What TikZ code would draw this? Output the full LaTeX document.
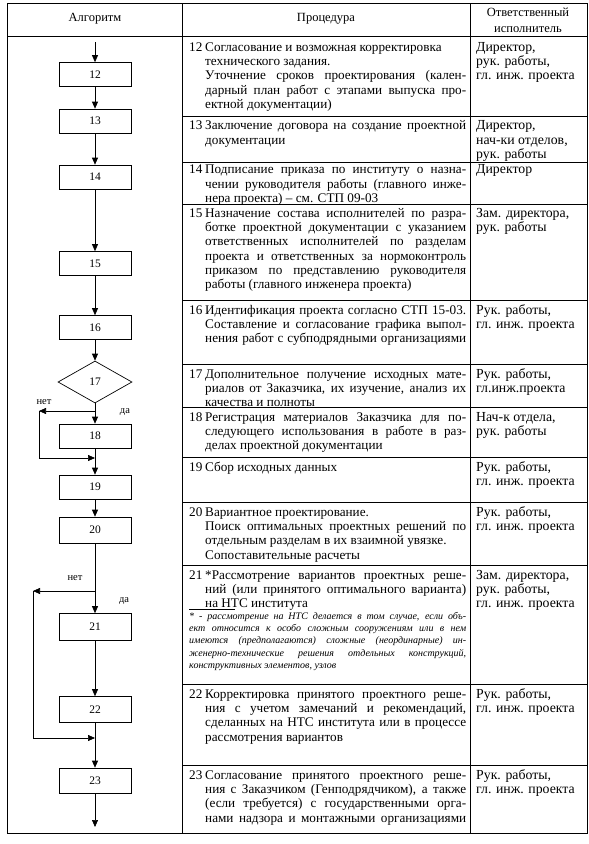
\documentclass[tikz,border=0pt]{standalone}
\usepackage{fontspec}
\setmainfont{Liberation Serif}
\usetikzlibrary{arrows.meta,shapes.geometric}
\newlength\numw \setlength\numw{16pt}
\newcommand\rs{\rule[-4.3pt]{0pt}{14.3pt}}
\newcommand\jline[2]{\hbox to \hsize{\rs\hbox to \numw{#1\hss}#2}}
\newcommand\lline[2]{\hbox to \hsize{\rs\hbox to \numw{#1\hss}#2\hfil}}
\newcommand\fs{\rule[-3.3pt]{0pt}{12.3pt}}
\newcommand\fj[1]{\hbox to \hsize{\fs#1}}
\newcommand\fl[1]{\hbox to \hsize{\fs#1\hfil}}
\newcommand\rl[1]{\hbox{\rs#1}}
\tikzset{
  box/.style={draw, line width=0.7pt, minimum width=72pt, minimum height=24pt, inner sep=0pt, font=\fontsize{11.5}{13}\selectfont},
  dia/.style={draw, diamond, aspect=1.76, line width=0.7pt, minimum width=74pt, minimum height=42pt, inner sep=0pt, font=\fontsize{11.5}{13}\selectfont},
  arr/.style={line width=0.7pt, -{Triangle[length=7pt,width=6pt]}},
  tab/.style={line width=0.9pt},
  rowl/.style={line width=0.7pt},
  txt/.style={anchor=north west, inner sep=0pt, font=\fontsize{13.2}{14.3}\selectfont},
  resp/.style={anchor=north west, inner sep=0pt, font=\fontsize{13.8}{14.3}\selectfont},
  fnote/.style={anchor=north west, inner sep=0pt, font=\itshape\fontsize{10}{12.3}\selectfont},
  lab/.style={inner sep=0pt, font=\fontsize{10.5}{12}\selectfont},
  hdr/.style={inner sep=0pt, align=center, font=\fontsize{12.5}{16}\selectfont}
}
\begin{document}
\begin{tikzpicture}[x=1pt,y=-1pt]
\fill[white] (0,0) rectangle (589,844);
\useasboundingbox (0,0) rectangle (589,844);
% table
\draw[tab] (7,3) rectangle (587,833);
\draw[tab] (7,36) -- (587,36);
\draw[tab] (182,3) -- (182,833);
\draw[tab] (470,3) -- (470,833);
\foreach \y in {116,162,204,300,364,407,457,502,565,684,765}
  \draw[rowl] (182,\y) -- (587,\y);
% header
\node[hdr] (h1) at (95,19) {Алгоритм};
\node[hdr] (h2) at (326,19) {Процедура};
\node[hdr] (h3) at (528,20) {Ответственный\\исполнитель};
% procedure texts
\node[txt] (t12) at (189,41) {\vbox{\hsize=277pt
 \lline{12}{Согласование и возможная корректировка}
 \lline{}{технического задания.}
 \jline{}{Уточнение сроков  проектирования (кален-}
 \jline{}{дарный план работ с этапами выпуска про-}
 \lline{}{ектной документации)}}};
\node[txt] (t13) at (189,119.5) {\vbox{\hsize=277pt
 \jline{13}{Заключение договора на создание проектной}
 \lline{}{документации}}};
\node[txt] (t14) at (189,163.5) {\vbox{\hsize=277pt
 \jline{14}{Подписание приказа по институту о назна-}
 \jline{}{чении руководителя работы (главного инже-}
 \lline{}{нера проекта) -- см. СТП 09-03}}};
\node[txt] (t15) at (189,207) {\vbox{\hsize=277pt
 \jline{15}{Назначение состава исполнителей по разра-}
 \jline{}{ботке проектной документации с указанием}
 \jline{}{ответственных исполнителей по разделам}
 \jline{}{проекта и ответственных за нормоконтроль}
 \jline{}{приказом по представлению руководителя}
 \lline{}{работы (главного инженера проекта)}}};
\node[txt] (t16) at (189,304) {\vbox{\hsize=277pt
 \jline{16}{Идентификация проекта согласно СТП 15-03.}
 \jline{}{Составление и согласование графика выпол-}
 \jline{}{нения работ с субподрядными организациями}}};
\node[txt] (t17) at (189,368) {\vbox{\hsize=277pt
 \jline{17}{Дополнительное получение исходных мате-}
 \jline{}{риалов от Заказчика, их изучение, анализ их}
 \lline{}{качества и полноты}}};
\node[txt] (t18) at (189,411) {\vbox{\hsize=277pt
 \jline{18}{Регистрация материалов Заказчика для по-}
 \jline{}{следующего использования в работе в раз-}
 \lline{}{делах проектной документации}}};
\node[txt] (t19) at (189,461) {\vbox{\hsize=277pt
 \lline{19}{Сбор исходных данных}}};
\node[txt] (t20) at (189,506) {\vbox{\hsize=277pt
 \lline{20}{Вариантное проектирование.}
 \jline{}{Поиск оптимальных проектных решений по}
 \lline{}{отдельным разделам в их взаимной увязке.}
 \lline{}{Сопоставительные расчеты}}};
\node[txt] (t21) at (189,569) {\vbox{\hsize=277pt
 \jline{21}{*Рассмотрение вариантов проектных реше-}
 \jline{}{ний (или принятого оптимального варианта)}
 \lline{}{на НТС института}}};
\draw[rowl] (189,609) -- (235,609);
\node[fnote] (f21) at (189,610) {\vbox{\hsize=277pt
 \fj{* - рассмотрение на НТС делается в том случае, если объ-}
 \fj{ект относится к особо сложным сооружениям или в нем}
 \fj{имеются (предполагаются) сложные (неординарные) ин-}
 \fj{женерно-технические решения отдельных конструкций,}
 \fl{конструктивных элементов, узлов}}};
\node[txt] (t22) at (189,688) {\vbox{\hsize=277pt
 \jline{22}{Корректировка принятого проектного реше-}
 \jline{}{ния с учетом замечаний и рекомендаций,}
 \jline{}{сделанных на НТС института или в процессе}
 \lline{}{рассмотрения вариантов}}};
\node[txt] (t23) at (189,769) {\vbox{\hsize=277pt
 \jline{23}{Согласование принятого проектного реше-}
 \jline{}{ния с Заказчиком (Генподрядчиком), а также}
 \jline{}{(если требуется) с государственными орга-}
 \jline{}{нами надзора и монтажными организациями}}};
% responsible
\node[resp] (r12) at (476,41) {\vbox{\hsize=110pt \rl{Директор,}\rl{рук. работы,}\rl{гл. инж. проекта}}};
\node[resp] (r13) at (476,119.5) {\vbox{\hsize=110pt \rl{Директор,}\rl{нач-ки отделов,}\rl{рук. работы}}};
\node[resp] (r14) at (476,163.5) {\vbox{\hsize=110pt \rl{Директор}}};
\node[resp] (r15) at (476,207) {\vbox{\hsize=110pt \rl{Зам. директора,}\rl{рук. работы}}};
\node[resp] (r16) at (476,304) {\vbox{\hsize=110pt \rl{Рук. работы,}\rl{гл. инж. проекта}}};
\node[resp] (r17) at (476,368) {\vbox{\hsize=110pt \rl{Рук. работы,}\rl{гл.инж.проекта}}};
\node[resp] (r18) at (476,411) {\vbox{\hsize=110pt \rl{Нач-к отдела,}\rl{рук. работы}}};
\node[resp] (r19) at (476,461) {\vbox{\hsize=110pt \rl{Рук. работы,}\rl{гл. инж. проекта}}};
\node[resp] (r20) at (476,506) {\vbox{\hsize=110pt \rl{Рук. работы,}\rl{гл. инж. проекта}}};
\node[resp] (r21) at (476,569) {\vbox{\hsize=110pt \rl{Зам. директора,}\rl{рук. работы,}\rl{гл. инж. проекта}}};
\node[resp] (r22) at (476,688) {\vbox{\hsize=110pt \rl{Рук. работы,}\rl{гл. инж. проекта}}};
\node[resp] (r23) at (476,769) {\vbox{\hsize=110pt \rl{Рук. работы,}\rl{гл. инж. проекта}}};
% flowchart
\coordinate (start) at (95,42);
\node[box] (b12) at (95,74.5) {12};
\node[box] (b13) at (95,121) {13};
\node[box] (b14) at (95,177) {14};
\node[box] (b15) at (95,263.5) {15};
\node[box] (b16) at (95,327.5) {16};
\node[dia] (d17) at (95,382) {17};
\node[box] (b18) at (95,436) {18};
\node[box] (b19) at (95,487) {19};
\node[box, minimum height=26pt] (b20) at (95,530) {20};
\node[box, minimum height=27pt] (b21) at (95,627) {21};
\node[box, minimum height=26pt] (b22) at (95,709.5) {22};
\node[box, minimum height=25pt] (b23) at (95,780.5) {23};
\coordinate (fin) at (95,827);
\coordinate (j1) at (95,411);
\coordinate (c1) at (39,411);
\coordinate (m1) at (95,458);
\coordinate (j2) at (95,591);
\coordinate (c2) at (33,591);
\coordinate (m2) at (95,738);
\draw[arr] (start) -- (b12);
\draw[arr] (b12) -- (b13);
\draw[arr] (b13) -- (b14);
\draw[arr] (b14) -- (b15);
\draw[arr] (b15) -- (b16);
\draw[arr] (b16) -- (d17);
\draw[arr] (d17) -- (b18);
\draw[arr] (b18) -- (b19);
\draw[arr] (b19) -- (b20);
\draw[arr] (b20) -- (b21);
\draw[arr] (b21) -- (b22);
\draw[arr] (b22) -- (b23);
\draw[arr] (b23) -- (fin);
\draw[arr] (j1) -- (c1);
\draw[arr] (c1) |- (m1);
\draw[arr] (j2) -- (c2);
\draw[arr] (c2) |- (m2);
\node[lab] (n1) at (44,402) {нет};
\node[lab] (y1) at (125,412) {да};
\node[lab] (n2) at (75,578) {нет};
\node[lab] (y2) at (124,601) {да};
\end{tikzpicture}
\end{document}
